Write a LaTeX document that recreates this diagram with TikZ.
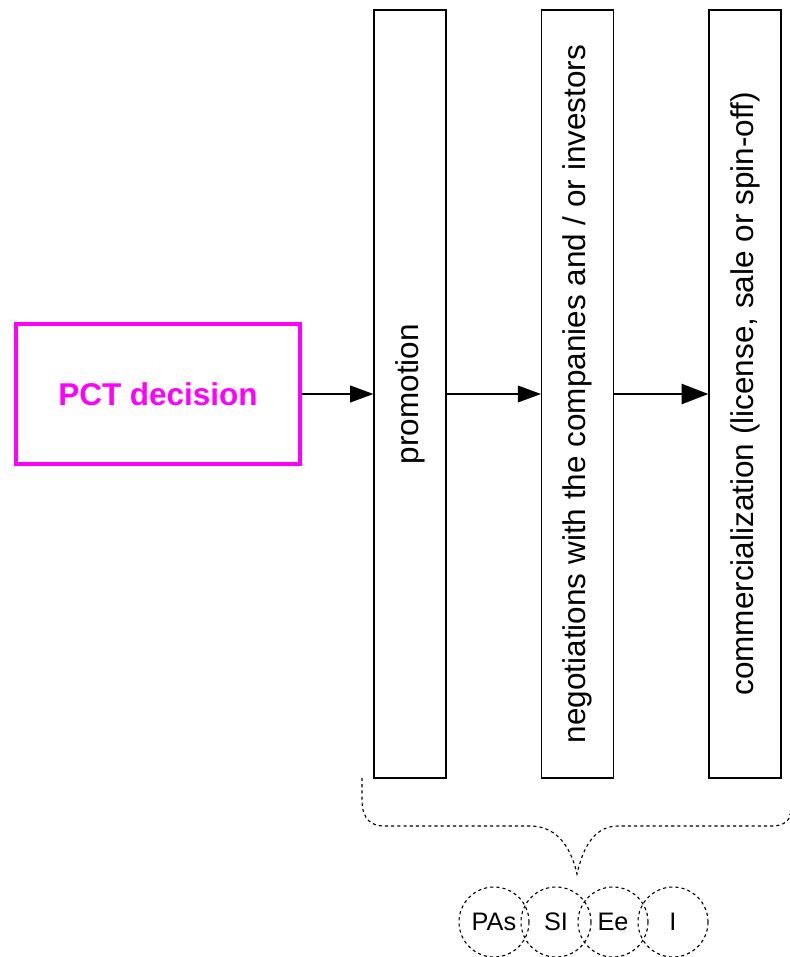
\documentclass[tikz,border=0pt]{standalone}
\usepackage{fontspec}
\setmainfont{Liberation Sans}
\usetikzlibrary{positioning, arrows.meta, calc}
\definecolor{pctpink}{RGB}{255,0,255}

\begin{document}
\begin{tikzpicture}[
  decision/.style={draw=pctpink, line width=2.8pt, minimum width=7.1cm, minimum height=3.5cm,
    inner sep=3pt, text=pctpink, font=\fontsize{22.4}{27}\selectfont\bfseries},
  stage/.style={draw=black, line width=0.9pt, rotate=90, minimum width=19.2cm, minimum height=1.8cm,
    inner sep=2pt, font=\fontsize{22.4}{27}\selectfont},
  party/.style={draw=black, circle, line width=0.8pt, dash pattern=on 2.2pt off 2.2pt,
    minimum size=1.75cm, inner sep=0pt, font=\fontsize{18}{22}\selectfont},
  flow/.style={-{Triangle[length=0.58cm, width=0.42cm]}, line width=0.9pt},
  bigflow/.style={-{Triangle[length=0.67cm, width=0.5cm]}, line width=1.9pt},
  brace/.style={line width=0.8pt, dash pattern=on 2.2pt off 2.2pt}
]
\useasboundingbox (0,0) rectangle (19.75,-23.925);

% decision, then the three stages standing upright
\node[decision] (pct) at (3.95,-9.85) {PCT decision};
\node[stage] (promo) at (10.25,-9.85)   {promotion};
\node[stage] (nego)  at (14.44,-9.85)   {negotiations with the companies and / or investors};
\node[stage] (comm)  at (18.625,-9.85)  {commercialization (license, sale or spin-off)};

\draw[flow]    (pct.east)    -- (promo.north);
\draw[flow]    (promo.south) -- (nego.north);
\draw[bigflow] (nego.south)  -- (comm.north);

% dashed brace under the stages, pointing at the parties
\coordinate (bl) at (9.05,-19.45);
\coordinate (tip) at (14.425,-21.85);
\coordinate (br) at (19.75,-20.35);
\draw[brace] (bl) -- (9.05,-20.0) .. controls (9.05,-20.5) and (9.3,-20.65) .. (9.6,-20.65)
  -- (13.25,-20.65) .. controls (14.0,-20.65) and (14.3,-21.3) .. (tip)
  .. controls (14.55,-21.3) and (14.8,-20.65) .. (15.45,-20.65)
  -- (19.3,-20.65) .. controls (19.6,-20.65) and (19.75,-20.5) .. (br);

% overlapping circles of the parties
\node[party] (pas) at (12.35,-23.05)  {PAs};
\node[party] (si)  at (13.9,-23.05)   {SI};
\node[party] (ee)  at (15.325,-23.05) {Ee};
\node[party] (inv) at (16.825,-23.05) {I};

\end{tikzpicture}
\end{document}
